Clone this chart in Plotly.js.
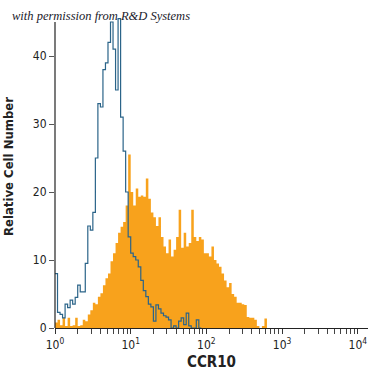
<!DOCTYPE html>
<html>
<head>
<meta charset="utf-8">
<script src="https://cdn.plot.ly/plotly-3.0.1.min.js"></script>
<style>html,body{margin:0;padding:0;background:#fff}#chart{width:375px;height:375px}</style>
</head>
<body>
<div id="chart"></div>
<script>
// Histogram channels: 30 bins per decade, starting at 10^0
const binsPerDecade = 30;

// Isotype control (blue outline) counts per bin
const isotypeCounts = [8, 2.3, 2, 1.5, 3.5, 3, 4.1, 3.5, 4.5, 6.3,
  5.3, 5.3, 9.5, 15, 14.4, 17, 25, 33, 32.5, 38,
  39, 42, 45, 41, 35, 45.5, 31, 26, 20, 13.4,
  11, 10.5, 10, 9, 7, 5.5, 4.6, 3.5, 3.1, 1,
  3.4, 2.8, 2.2, 1.8, 1.6, 1.2, 0, 0.3, 0, 1,
  1.5, 0.5, 2.2, 0.3, 0, 0, 1.2, 0];

// CCR10 antibody stained (orange filled) counts per bin
const stainedCounts = [0.8, 1.2, 0.4, 1.5, 0.3, 1.5, 0.3, 0.4, 1.5, 0.3,
  0.4, 1.2, 1, 2, 2.6, 3.7, 3.5, 4.6, 5.1, 6.3,
  7.3, 8, 9.8, 11, 12.5, 14, 14.9, 15.6, 18, 25.5,
  20, 18, 20.5, 19.3, 19.5, 19.3, 22, 19, 17, 16.3,
  15, 16.3, 13.4, 12, 11, 13, 10.5, 11.5, 13.4, 17.4,
  11.8, 14, 12, 12.5, 17.4, 13.4, 12.8, 13.4, 13, 11,
  11, 10.5, 12, 10, 9.5, 9, 8, 7, 6, 6.6,
  5, 4.6, 3.7, 3.7, 3.5, 3.4, 1.6, 1.5, 1.5, 1.2,
  0.3, 0, 0.3, 1.4, 0];

const xTickVals = [1, 10, 100, 1000, 10000];
const xTickText = ['10<sup>0</sup>', '10<sup>1</sup>', '10<sup>2</sup>', '10<sup>3</sup>', '10<sup>4</sup>'];
const yTickVals = [0, 10, 20, 30, 40];

function channelEdges(n) {
  const xs = [];
  for (let i = 0; i <= n; i++) xs.push(Math.pow(10, i / binsPerDecade));
  return xs;
}
function stepSeries(counts) {
  const xs = channelEdges(counts.length);
  const ys = counts.concat([counts[counts.length - 1]]);
  return {x: xs, y: ys};
}

// minor ticks: 2..9 per decade
const minorTicks = [];
for (let d = 0; d < 4; d++) {
  for (let m = 2; m <= 9; m++) minorTicks.push(m * Math.pow(10, d));
}

const s = stepSeries(stainedCounts);
const b = stepSeries(isotypeCounts);

const font = '"Liberation Sans Narrow", "DejaVu Sans Condensed", "Roboto", sans-serif';

const data = [
  {x: s.x, y: s.y, type: 'scatter', mode: 'lines', line: {shape: 'hv', width: 0, color: '#f8a21c'},
   fill: 'tozeroy', fillcolor: '#f8a21c', hoverinfo: 'skip'},
  {x: b.x, y: b.y, type: 'scatter', mode: 'lines', line: {shape: 'hv', width: 1.2, color: '#2b6489'},
   hoverinfo: 'skip'}
];

const layout = {
  width: 375, height: 375,
  margin: {l: 55, r: 7, t: 5, b: 47},
  paper_bgcolor: '#fff', plot_bgcolor: '#fff',
  showlegend: false,
  font: {family: font, size: 12, color: '#222'},
  xaxis: {
    type: 'log', range: [0, 4.135],
    tickmode: 'array', tickvals: xTickVals, ticktext: xTickText,
    ticks: 'outside', ticklen: 5, tickwidth: 1, tickcolor: '#333',
    minor: {tickmode: 'array', tickvals: minorTicks, ticks: 'outside', ticklen: 5, tickwidth: 1, tickcolor: '#444', showgrid: false},
    showline: true, linecolor: '#222', linewidth: 1.2,
    showgrid: false, zeroline: false,
    tickfont: {family: font, size: 12, color: '#222'},
    title: {text: '<b>CCR10</b>', font: {family: font, size: 15, color: '#222'}, standoff: 6}
  },
  yaxis: {
    range: [0, 47.5],
    tickvals: yTickVals,
    ticks: 'outside', ticklen: 5, tickwidth: 1, tickcolor: '#555',
    showline: false, showgrid: false, zeroline: false,
    tickfont: {family: font, size: 12, color: '#222'},
    title: {text: '<b>Relative Cell Number</b>', font: {family: font, size: 13, color: '#222'}, standoff: 16}
  },
  shapes: [
    {type: 'line', xref: 'x domain', yref: 'y', x0: 0, x1: 0, y0: 0, y1: 45,
     line: {color: '#222', width: 1.2}}
  ],
  annotations: [
    {text: '<i>with permission from R&amp;D Systems</i>', xref: 'paper', yref: 'paper',
     x: -0.144, y: 0.966, xanchor: 'left', yanchor: 'middle', showarrow: false,
     font: {family: '"Liberation Serif", "DejaVu Serif", serif', size: 12.5, color: '#1a1a2a'}}
  ]
};

Plotly.newPlot('chart', data, layout, {displayModeBar: false, staticPlot: true});
</script>
</body>
</html>
